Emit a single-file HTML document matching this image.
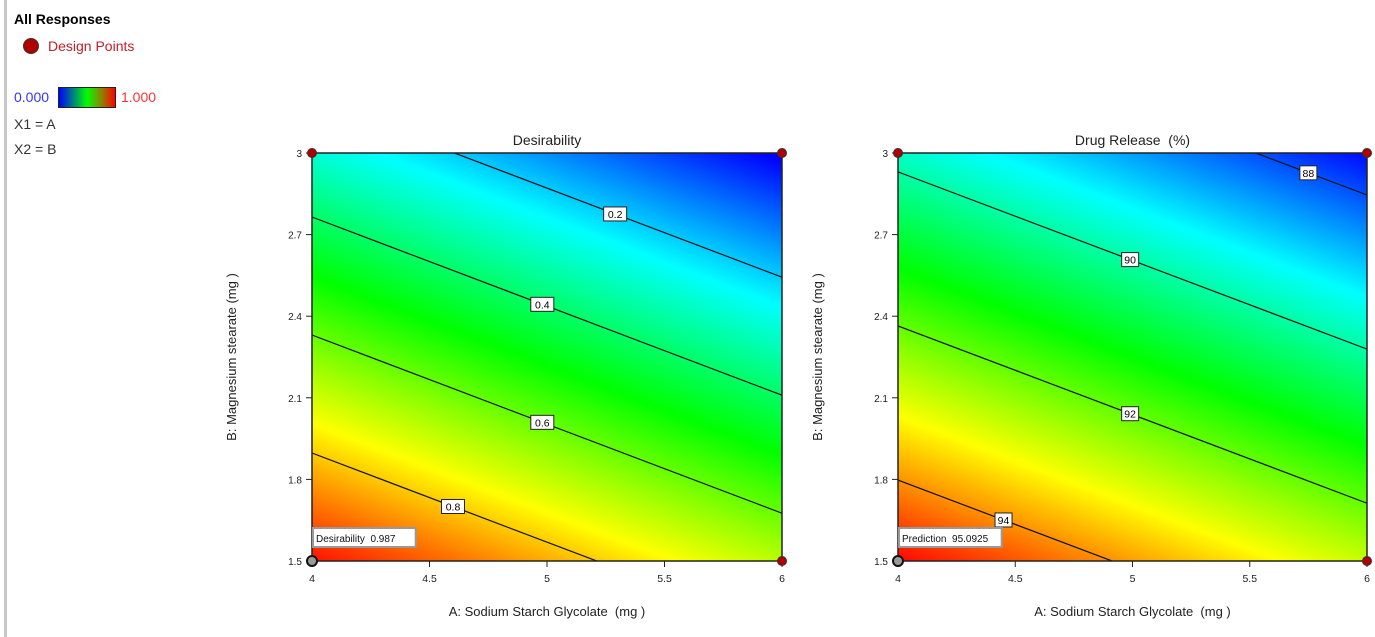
<!DOCTYPE html>
<html><head><meta charset="utf-8"><style>
body{margin:0;width:1375px;height:637px;background:#fff;overflow:hidden;position:relative;font-family:"Liberation Sans",sans-serif}
.t{position:absolute;white-space:nowrap}
svg text{white-space:pre}
</style></head><body>
<div style="position:absolute;left:4px;top:0;width:3px;height:637px;background:#c8c8c8"></div>
<div class="t" style="left:14px;top:11px;font-size:14px;font-weight:bold">All Responses</div>
<div style="position:absolute;left:23px;top:38px;width:16px;height:16px;border-radius:50%;background:#b00000;border:1px solid #333;box-sizing:border-box"></div>
<div class="t" style="left:48px;top:38px;font-size:14px;color:#c0202a">Design Points</div>
<div class="t" style="left:14px;top:89px;font-size:14px;color:#3333ff">0.000</div>
<div style="position:absolute;left:58px;top:87px;width:58px;height:21px;box-sizing:border-box;border:1px solid #222;background:linear-gradient(90deg,#0000ff,#00ff00 50%,#888800 75%,#ff0000)"></div>
<div class="t" style="left:121px;top:89px;font-size:14px;color:#ff3333">1.000</div>
<div class="t" style="left:14px;top:116px;font-size:14px;color:#333">X1 = A</div>
<div class="t" style="left:14px;top:141px;font-size:14px;color:#333">X2 = B</div>
<svg id="svg" width="1375" height="637" style="position:absolute;left:0;top:0" font-family="Liberation Sans, sans-serif"></svg>
<script>
// Model coefficients: value = c0 + cA*(A-4) + cB*(B-1.5)
const desCoef = [0.983, -0.151, -0.461];
const relCoef = [95.05, -1.15, -3.53];
const desLevels = [0.2, 0.4, 0.6, 0.8];
const relLevels = [88, 90, 92, 94];
const desLabelA = [5.29, 4.98, 4.98, 4.6];
const relLabelA = [5.75, 4.99, 4.99, 4.45];
const xTicks = [4, 4.5, 5, 5.5, 6];
const yTicks = [1.5, 1.8, 2.1, 2.4, 2.7, 3];
const designA = [4, 6, 4, 6];
const designB = [3, 3, 1.5, 1.5];

const NS = 'http://www.w3.org/2000/svg';
const svg = document.getElementById('svg');
function el(tag, attrs, parent) { const e = document.createElementNS(NS, tag); for (const k in attrs) e.setAttribute(k, attrs[k]); (parent || svg).appendChild(e); return e; }
function cmap(t) {
  t = Math.max(0, Math.min(1, t));
  const stops = [[0,0,0,255],[0.25,0,255,255],[0.5,0,255,0],[0.75,255,255,0],[1,255,0,0]];
  for (let i = 1; i < stops.length; i++) if (t <= stops[i][0]) {
    const a = stops[i-1], b = stops[i], f = (t - a[0]) / (b[0] - a[0]);
    return [a[1]+(b[1]-a[1])*f, a[2]+(b[2]-a[2])*f, a[3]+(b[3]-a[3])*f];
  }
  return [255,0,0];
}
function plot(cfg) {
  const {x0, x1, y0, y1, coef, levels, labelA, vmin, vmax, title, flag, name} = cfg;
  const sx = a => x0 + (a - 4) / 2 * (x1 - x0);
  const sy = b => y1 - (b - 1.5) / 1.5 * (y1 - y0);
  const val = (a, b) => coef[0] + coef[1]*(a-4) + coef[2]*(b-1.5);
  const W = x1 - x0, H = y1 - y0;
  const cv = document.createElement('canvas'); cv.width = W; cv.height = H;
  const ctx = cv.getContext('2d'); const img = ctx.createImageData(W, H);
  for (let j = 0; j < H; j++) for (let i = 0; i < W; i++) {
    const a = 4 + (i + 0.5) / W * 2, b = 3 - (j + 0.5) / H * 1.5;
    const c = cmap((val(a, b) - vmin) / (vmax - vmin));
    const k = (j * W + i) * 4; img.data[k] = c[0]; img.data[k+1] = c[1]; img.data[k+2] = c[2]; img.data[k+3] = 255;
  }
  ctx.putImageData(img, 0, 0);
  const im = el('image', {x: x0, y: y0, width: W, height: H, href: cv.toDataURL()});
  
  
  const clip = el('clipPath', {id: name + 'clip'}); el('rect', {x: x0, y: y0, width: W, height: H}, clip);
  levels.forEach((lv, idx) => {
    const bAt = a => 1.5 + (lv - coef[0] - coef[1]*(a-4)) / coef[2];
    const ln = el('line', {x1: sx(4), y1: sy(bAt(4)), x2: sx(6), y2: sy(bAt(6)), stroke: '#111', 'stroke-width': 1.2, 'clip-path': 'url(#' + name + 'clip)'});
    
    
    const lx = sx(labelA[idx]), ly = sy(bAt(labelA[idx]));
    const txt = String(lv); const w = txt.length * 6 + 5;
    const r = el('rect', {x: lx - w/2, y: ly - 7, width: w, height: 14, fill: '#fff', stroke: '#222'});
    
    
    const t = el('text', {x: lx, y: ly + 4, 'font-size': 10.5, 'text-anchor': 'middle'}); t.textContent = txt;
    
    
  });
  const fr = el('rect', {x: x0, y: y0, width: W, height: H, fill: 'none', stroke: '#222', 'stroke-width': 1.5});
  
  
  xTicks.forEach(v => {
    el('line', {x1: sx(v), y1: y1, x2: sx(v), y2: y1 + 6, stroke: '#222'});
    const t = el('text', {x: sx(v), y: y1 + 21, 'font-size': 10.5, 'text-anchor': 'middle', fill: '#222'}); t.textContent = v;
    
    
  });
  yTicks.forEach(v => {
    el('line', {x1: x0 - 6, y1: sy(v), x2: x0, y2: sy(v), stroke: '#222'});
    const t = el('text', {x: x0 - 10, y: sy(v) + 4, 'font-size': 10, 'text-anchor': 'end', fill: '#222'}); t.textContent = v;
    
    
  });
  const tt = el('text', {x: (x0 + x1) / 2, y: y0 - 8, 'font-size': 14, 'text-anchor': 'middle', fill: '#222'}); tt.textContent = title;
  
  
  const xt = el('text', {x: (x0 + x1) / 2, y: y1 + 55, 'font-size': 13, 'text-anchor': 'middle', fill: '#222'}); xt.textContent = 'A: Sodium Starch Glycolate  (mg )';
  
  
  const yt = el('text', {x: 0, y: 0, 'font-size': 13, 'text-anchor': 'middle', fill: '#222', transform: 'translate(' + (x0 - 76) + ',' + ((y0 + y1) / 2) + ') rotate(-90)'}); yt.textContent = 'B: Magnesium stearate (mg )';
  
  
  designA.forEach((a, i) => {
    if (a === 4 && designB[i] === 1.5) return;
    const c = el('circle', {cx: sx(a), cy: sy(designB[i]), r: 4.5, fill: '#b00000', stroke: '#333'});
    
    
  });
  const fb = el('rect', {x: x0 + 1, y: y1 - 33, width: flag.length * 5.3 + 2, height: 19, fill: '#fff', stroke: '#999', 'stroke-width': 2});
  
  
  const ft = el('text', {x: x0 + 4, y: y1 - 19, 'font-size': 10, fill: '#111'}); ft.textContent = flag;
  
  
  const fc = el('circle', {cx: x0, cy: y1, r: 5, fill: '#999', stroke: '#111', 'stroke-width': 2});
  
  
}
plot({x0: 312, x1: 782, y0: 153, y1: 561, coef: desCoef, levels: desLevels, labelA: desLabelA, vmin: 0, vmax: 1, title: 'Desirability', flag: 'Desirability  0.987', name: 'desirability'});
plot({x0: 898, x1: 1367, y0: 153, y1: 561, coef: relCoef, levels: relLevels, labelA: relLabelA, vmin: 87.4, vmax: 95.1, title: 'Drug Release  (%)', flag: 'Prediction  95.0925', name: 'release'});
</script>
</body></html>
